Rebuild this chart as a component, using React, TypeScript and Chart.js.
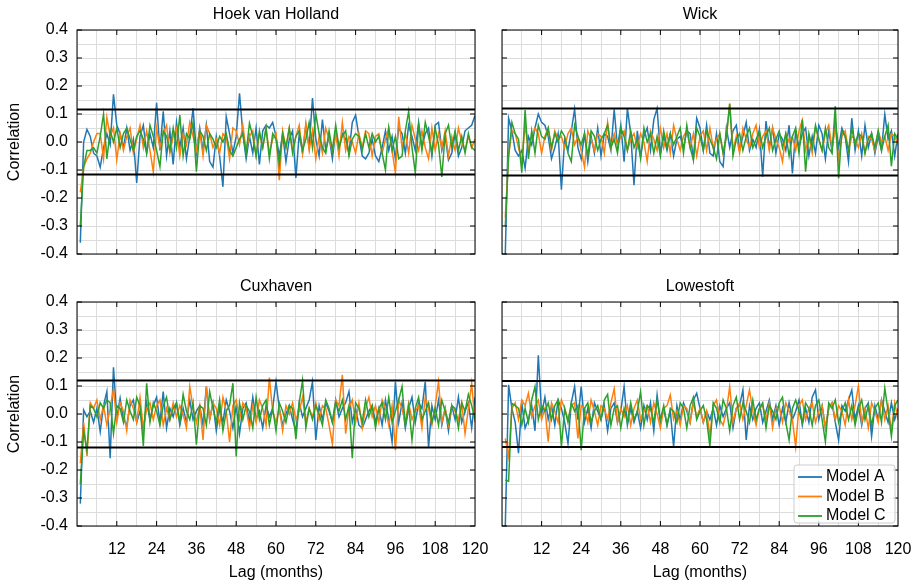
import React, { useEffect, useRef } from 'react';
import { Chart, registerables } from 'chart.js';

Chart.register(...registerables);

const FONT = "'Liberation Sans', Arial, Helvetica, sans-serif";
Chart.defaults.font.family = FONT;
Chart.defaults.font.size = 16;
Chart.defaults.color = '#000';

// Lag axis (months)
const LAGS: number[] = Array.from({ length: 120 }, (_, i) => i + 1);
const X_LABELS = [12, 24, 36, 48, 60, 72, 84, 96, 108, 120];
const Y_LABELS = [-0.4, -0.3, -0.2, -0.1, 0, 0.1, 0.2, 0.3, 0.4];

const SERIES_NAMES = ['Model A', 'Model B', 'Model C'];
const SERIES_COLORS = ['#1f77b4', '#ff7f0e', '#2ca02c'];

// ---------------- Hoek van Holland ----------------
const hvhA = [
  -0.36, 0.0, 0.045, 0.02, -0.04, -0.05, -0.09, -0.02, 0.03, -0.01, 0.17, 0.06,
  0.03, -0.02, 0.05, -0.03, 0.01, -0.146, 0.02, 0.06, -0.04, 0.03, -0.02, 0.14,
  -0.03, 0.11, -0.05, 0.04, -0.08, 0.07, -0.02, 0.05, -0.06, 0.02, 0.12, -0.04,
  0.05, -0.03, 0.06, -0.07, -0.09, 0.02, -0.05, -0.16, 0.09, 0.03, -0.04, 0.02,
  0.174, 0.03, -0.06, 0.02, -0.04, 0.05, -0.08, 0.04, 0.06, 0.05, 0.07, 0.02,
  -0.05, 0.03, -0.07, 0.01, 0.04, -0.128, 0.03, -0.04, 0.06, -0.02, 0.157, 0.01,
  -0.05, 0.08, -0.03, 0.02, -0.06, 0.04, -0.02, 0.03, 0.01, -0.04, 0.07, 0.096,
  0.02, -0.05, -0.06, -0.04, 0.01, -0.05, -0.07, -0.02, 0.04, -0.03, 0.02, -0.06,
  0.05, 0.03, -0.04, 0.06, 0.02, -0.03, 0.07, -0.02, 0.03, 0.05, -0.05, 0.06,
  0.07, -0.03, 0.02, -0.064, -0.04, 0.03, -0.05, -0.02, 0.04, 0.05, 0.06, 0.095,
];
const hvhB = [
  -0.18, -0.09, -0.06, -0.04, 0.0, 0.03, 0.03, -0.06, 0.088, 0.02, 0.05, -0.064,
  0.03, -0.03, 0.02, 0.05, -0.04, 0.01, 0.06, -0.02, 0.04, -0.03, -0.106, 0.05,
  -0.02, 0.03, 0.06, -0.04, 0.02, 0.05, -0.05, 0.03, -0.01, 0.07, 0.02, -0.03,
  0.04, -0.05, 0.06, 0.03, -0.02, 0.01, -0.04, 0.03, 0.02, -0.06, 0.05, 0.04,
  -0.01, 0.06, -0.03, 0.02, 0.04, -0.05, 0.03, -0.02, 0.05, -0.04, 0.01, 0.03,
  -0.136, 0.04, -0.02, 0.05, -0.03, 0.02, 0.06, -0.04, 0.067, -0.03, 0.04, -0.06,
  0.02, -0.04, 0.05, 0.01, -0.03, 0.03, -0.05, 0.07, -0.03, 0.02, 0.0, -0.04,
  0.03, -0.02, 0.04, 0.03, -0.05, 0.02, 0.03, -0.04, 0.01, 0.05, -0.03, -0.11,
  0.09, -0.02, 0.03, -0.04, 0.06, 0.01, -0.03, 0.04, -0.02, -0.06, 0.05, -0.03,
  0.03, -0.02, 0.04, -0.05, 0.02, -0.03, 0.05, 0.0, -0.03, 0.02, -0.02, 0.01,
];
const hvhC = [
  -0.3, -0.09, -0.03, -0.03, -0.02, -0.04, 0.02, 0.1, -0.06, 0.04, 0.0, 0.05,
  -0.02, 0.03, 0.05, 0.01, -0.03, 0.02, 0.04, 0.01, -0.04, 0.06, 0.02, -0.03,
  -0.088, 0.04, 0.02, -0.03, 0.05, -0.02, 0.096, -0.05, 0.03, 0.01, 0.07, -0.106,
  0.04, 0.02, -0.03, 0.03, 0.01, -0.02, 0.02, 0.0, 0.03, -0.03, -0.05, -0.02,
  0.01, 0.03, -0.04, 0.067, 0.02, -0.05, 0.04, -0.02, 0.05, -0.06, 0.03, 0.01,
  -0.08, 0.03, -0.02, 0.05, -0.04, 0.02, 0.04, -0.03, 0.01, 0.07, -0.02, 0.1,
  0.03, -0.02, -0.04, 0.04, -0.03, 0.06, -0.02, 0.02, 0.04, -0.05, 0.01, 0.03,
  0.02, -0.03, 0.03, -0.02, 0.03, 0.0, 0.02, -0.04, -0.1, 0.05, -0.03, 0.02,
  -0.06, -0.05, 0.04, 0.11, -0.02, -0.11, 0.06, -0.03, 0.07, 0.02, -0.04, 0.05,
  -0.01, -0.125, 0.03, 0.06, -0.02, 0.04, -0.03, 0.02, -0.04, 0.03, -0.02, -0.03,
];

// ---------------- Wick ----------------
const wickA = [
  -0.4, 0.085, 0.04, -0.03, -0.05, -0.03, -0.094, 0.02, -0.01, 0.05, 0.1, 0.07,
  0.06, 0.02, -0.06, -0.02, 0.03, -0.17, 0.01, -0.03, 0.04, 0.117, -0.02, -0.06,
  0.03, -0.07, 0.02, -0.04, 0.05, -0.05, 0.03, 0.02, -0.03, 0.117, -0.02, 0.06,
  -0.07, 0.12, 0.03, -0.154, 0.04, -0.05, 0.02, 0.05, -0.03, 0.08, 0.12, -0.04,
  0.02, -0.03, 0.03, -0.05, 0.01, 0.02, -0.02, 0.04, 0.03, -0.06, 0.085, 0.05,
  -0.03, 0.06, -0.04, -0.05, 0.03, -0.07, -0.088, 0.05, -0.02, 0.04, 0.06, -0.03,
  0.02, 0.07, -0.03, 0.01, -0.02, 0.045, -0.124, 0.075, -0.02, 0.05, -0.04, 0.03,
  0.01, -0.03, 0.06, -0.112, 0.04, -0.02, 0.03, 0.05, -0.05, 0.02, -0.04, 0.06,
  0.03, -0.06, 0.04, -0.03, 0.07, -0.02, 0.05, 0.02, -0.07, 0.085, -0.03, 0.04,
  -0.05, 0.06, -0.02, 0.03, -0.04, 0.02, -0.03, 0.099, 0.01, 0.04, -0.05, 0.03,
];
const wickB = [
  -0.27, -0.05, 0.04, 0.03, -0.02, -0.07, 0.06, -0.03, 0.02, 0.05, 0.03, -0.04,
  0.02, 0.05, -0.03, 0.04, 0.01, 0.02, -0.02, 0.03, 0.05, -0.01, 0.02, -0.03,
  -0.09, 0.04, 0.01, -0.03, 0.03, 0.02, -0.04, 0.07, -0.02, 0.03, -0.01, 0.02,
  0.04, -0.03, 0.01, 0.03, -0.02, 0.03, 0.0, -0.07, 0.04, 0.01, -0.03, 0.05,
  -0.02, 0.03, -0.04, 0.06, 0.01, -0.03, 0.02, 0.04, -0.02, 0.03, -0.05, 0.02,
  0.04, -0.03, 0.05, -0.02, 0.01, 0.03, -0.04, 0.02, 0.138, -0.03, 0.02, -0.04,
  0.05, 0.01, -0.02, 0.03, 0.06, -0.02, 0.02, 0.04, -0.03, 0.05, 0.01, -0.02,
  -0.07, 0.03, 0.0, 0.02, -0.03, 0.04, 0.079, -0.03, 0.02, -0.04, 0.05, 0.01,
  -0.03, 0.03, 0.06, -0.02, 0.05, -0.06, 0.02, 0.04, -0.03, 0.02, 0.01, -0.02,
  0.03, -0.04, 0.02, 0.01, -0.03, 0.04, 0.0, 0.02, -0.03, 0.03, 0.02, -0.01,
];
const wickC = [
  -0.3, -0.05, 0.07, 0.03, 0.01, -0.11, 0.114, -0.06, 0.04, -0.04, 0.06, 0.02,
  0.01, 0.05, -0.02, 0.03, 0.0, 0.04, 0.02, -0.04, -0.07, 0.06, 0.02, -0.01,
  0.03, -0.05, 0.04, 0.02, -0.03, 0.01, 0.03, 0.06, -0.02, 0.01, -0.04, 0.05,
  0.02, -0.03, 0.04, -0.02, 0.01, -0.06, 0.05, 0.0, 0.03, -0.04, 0.02, -0.05,
  0.04, -0.02, 0.03, -0.01, 0.02, 0.05, -0.04, 0.06, -0.02, -0.064, 0.05, 0.02,
  -0.03, 0.04, 0.01, -0.02, -0.06, 0.03, -0.04, 0.02, 0.135, -0.05, 0.01, 0.03,
  -0.03, 0.02, 0.05, -0.02, 0.01, 0.04, -0.02, 0.02, 0.05, -0.03, 0.01, 0.04,
  -0.02, 0.03, -0.05, 0.02, 0.05, -0.04, 0.08, -0.106, 0.03, -0.02, 0.06, 0.01,
  -0.03, 0.05, -0.02, -0.04, 0.128, -0.13, 0.04, 0.02, -0.03, 0.05, -0.01, 0.03,
  0.02, -0.04, 0.01, 0.03, -0.02, 0.04, -0.03, 0.02, 0.06, -0.086, 0.03, 0.01,
];

// ---------------- Cuxhaven ----------------
const cuxA = [
  -0.32, 0.014, -0.01, 0.01, -0.03, 0.02, -0.063, 0.03, 0.08, -0.158, 0.167, -0.015,
  0.056, -0.02, -0.04, 0.03, 0.05, -0.03, 0.01, -0.06, 0.04, -0.02, 0.03, 0.06,
  -0.03, 0.08, -0.05, 0.02, -0.01, 0.04, -0.04, 0.02, -0.03, 0.05, -0.02, 0.01,
  0.03, -0.04, 0.098, -0.02, 0.04, -0.06, 0.02, -0.03, 0.05, 0.01, -0.05, 0.03,
  -0.07, 0.02, 0.04, -0.03, 0.06, -0.02, 0.01, -0.05, 0.03, -0.01, 0.02, 0.115,
  0.02, -0.04, 0.0, 0.03, -0.02, -0.06, 0.04, -0.01, 0.02, 0.05, 0.115, -0.093,
  0.03, -0.02, 0.04, 0.01, -0.03, 0.05, -0.01, 0.02, 0.04, 0.08, -0.03, 0.02,
  -0.04, -0.05, -0.02, 0.01, 0.03, -0.03, 0.02, -0.04, 0.05, -0.02, -0.1, 0.115,
  -0.03, 0.04, -0.05, 0.02, 0.06, -0.03, 0.04, 0.02, 0.115, -0.12, 0.03, -0.02,
  0.05, -0.04, 0.02, -0.06, 0.03, -0.02, 0.06, -0.03, 0.01, 0.04, -0.05, 0.06,
];
const cuxB = [
  -0.176, -0.03, -0.15, 0.04, 0.02, 0.05, -0.02, 0.03, -0.04, 0.02, 0.09, -0.03,
  0.04, 0.01, -0.06, 0.05, 0.02, -0.03, 0.06, -0.05, 0.02, 0.04, -0.02, 0.03,
  0.05, -0.04, 0.02, -0.02, 0.04, -0.01, 0.03, 0.0, -0.05, 0.098, 0.02, -0.03,
  0.03, -0.093, 0.098, -0.02, 0.04, 0.02, -0.04, 0.06, 0.01, -0.1, 0.03, 0.05,
  -0.02, 0.04, 0.02, -0.05, 0.03, -0.03, 0.05, 0.02, -0.04, 0.13, 0.01, -0.03,
  0.02, -0.06, 0.03, 0.0, 0.04, -0.02, 0.01, 0.06, -0.03, 0.02, -0.01, 0.04,
  -0.02, 0.03, 0.02, -0.04, -0.107, 0.05, 0.03, 0.14, -0.07, 0.02, 0.05, -0.03,
  0.04, -0.05, 0.02, 0.06, -0.01, 0.03, -0.03, 0.05, 0.02, -0.04, 0.03, -0.129,
  0.05, 0.02, -0.03, 0.04, -0.02, 0.01, 0.03, -0.05, 0.06, 0.02, -0.04, 0.03,
  0.115, -0.03, 0.02, -0.04, 0.03, 0.01, -0.02, 0.04, -0.07, 0.02, 0.11, -0.03,
];
const cuxC = [
  -0.25, -0.06, -0.13, 0.03, 0.02, -0.01, 0.04, 0.02, 0.05, 0.04, -0.07, 0.03,
  0.02, -0.03, 0.05, 0.01, -0.02, 0.06, 0.03, -0.114, 0.11, -0.03, 0.04, 0.01,
  -0.04, 0.03, 0.06, -0.02, 0.02, 0.04, -0.03, 0.07, 0.01, -0.02, 0.04, -0.11,
  0.03, 0.02, -0.04, 0.08, 0.02, -0.03, 0.05, -0.06, 0.01, 0.03, 0.11, -0.152,
  0.04, -0.02, 0.03, 0.01, -0.05, 0.06, -0.02, 0.03, 0.05, -0.04, 0.02, -0.06,
  0.04, 0.01, -0.03, 0.03, 0.02, -0.09, 0.04, 0.12, -0.05, 0.02, -0.02, 0.03,
  0.0, -0.04, 0.05, 0.02, -0.03, 0.04, 0.01, 0.05, -0.02, 0.03, -0.158, 0.04,
  0.02, -0.03, 0.05, -0.01, 0.03, -0.05, 0.02, 0.04, -0.02, 0.06, -0.03, 0.01,
  0.05, 0.098, -0.04, 0.03, -0.093, 0.02, 0.06, -0.02, 0.01, 0.04, -0.03, 0.02,
  -0.04, 0.05, 0.01, -0.03, 0.03, 0.02, -0.05, 0.04, 0.01, 0.07, 0.03, -0.02,
];

// ---------------- Lowestoft ----------------
const lowA = [
  -0.4, 0.104, 0.02, -0.03, -0.14, 0.04, -0.05, -0.02, 0.03, -0.06, 0.21, 0.0,
  0.06, -0.02, 0.03, -0.04, 0.05, 0.02, -0.03, -0.105, 0.04, 0.098, -0.02, 0.098,
  -0.03, 0.02, -0.05, 0.04, 0.01, -0.02, 0.03, -0.06, 0.02, 0.04, -0.03, 0.01,
  0.098, -0.04, 0.02, -0.03, 0.01, -0.05, 0.03, -0.02, 0.04, -0.06, 0.068, -0.03,
  0.02, -0.04, 0.01, -0.117, 0.03, -0.02, 0.04, 0.01, -0.03, 0.05, 0.074, 0.02,
  -0.03, 0.01, -0.02, 0.02, -0.04, 0.03, -0.01, 0.02, 0.04, -0.05, 0.02, 0.03,
  0.086, -0.093, 0.03, -0.02, 0.02, 0.04, -0.03, 0.01, 0.05, -0.02, 0.03, -0.04,
  0.02, -0.03, 0.04, -0.02, 0.01, 0.05, -0.04, 0.02, -0.03, 0.06, 0.086, -0.02,
  0.03, -0.05, 0.02, 0.04, -0.03, -0.093, 0.03, 0.01, 0.05, 0.086, -0.02, 0.03,
  -0.04, 0.02, 0.04, -0.08, 0.03, -0.02, 0.05, 0.01, -0.03, 0.04, -0.02, 0.02,
];
const lowB = [
  -0.087, -0.152, 0.02, 0.04, -0.02, 0.05, 0.03, 0.074, -0.01, 0.03, 0.05, -0.02,
  0.02, -0.099, 0.04, 0.01, -0.03, 0.05, 0.02, -0.02, 0.03, 0.04, -0.087, 0.03,
  0.02, -0.03, 0.05, 0.01, -0.04, 0.03, 0.02, -0.02, 0.04, 0.09, -0.03, 0.02,
  -0.01, 0.03, -0.04, 0.02, 0.05, -0.02, 0.01, 0.03, -0.03, 0.04, 0.0, -0.05,
  0.02, 0.03, 0.068, -0.02, 0.01, -0.04, 0.03, 0.02, -0.03, 0.04, -0.01, 0.02,
  -0.03, 0.01, -0.08, 0.03, 0.05, -0.02, -0.04, 0.01, 0.098, -0.03, 0.02, 0.04,
  -0.02, 0.03, 0.086, 0.01, -0.04, 0.02, 0.03, -0.02, 0.04, -0.05, 0.02, 0.03,
  -0.03, 0.04, 0.01, -0.02, -0.117, 0.03, 0.05, -0.02, 0.02, 0.04, -0.03, 0.01,
  0.03, -0.05, 0.02, 0.04, -0.02, 0.03, 0.01, -0.04, 0.05, -0.02, 0.03, 0.1,
  -0.03, 0.02, -0.05, 0.04, 0.01, -0.03, 0.05, -0.02, 0.03, -0.06, 0.04, -0.02,
];
const lowC = [
  -0.236, -0.24, 0.038, 0.03, 0.02, -0.04, 0.02, -0.03, 0.05, 0.098, -0.02, 0.03,
  0.01, 0.04, -0.02, 0.03, 0.05, -0.117, 0.02, -0.03, 0.04, 0.01, 0.03, -0.129,
  0.02, 0.04, -0.03, 0.01, 0.03, -0.02, 0.05, 0.07, -0.04, 0.02, 0.03, -0.05,
  0.02, -0.03, 0.04, -0.02, 0.01, 0.08, -0.04, 0.03, 0.02, -0.03, 0.05, -0.02,
  0.03, -0.04, 0.02, 0.01, -0.03, 0.04, 0.02, -0.05, 0.03, 0.06, -0.02, 0.01,
  0.03, -0.02, -0.117, 0.04, 0.02, -0.03, 0.05, 0.02, -0.06, 0.03, 0.06, -0.02,
  0.04, 0.01, -0.03, 0.05, -0.02, 0.02, 0.04, -0.05, 0.03, 0.01, -0.02, 0.04,
  0.06, -0.03, -0.093, 0.02, 0.05, 0.01, -0.03, 0.04, 0.02, -0.04, 0.03, 0.05,
  -0.02, -0.099, 0.04, 0.02, 0.05, -0.03, 0.01, 0.04, -0.02, 0.03, -0.04, 0.02,
  0.05, -0.02, 0.03, -0.04, 0.02, 0.04, -0.03, 0.092, 0.01, -0.08, 0.03, 0.05,
];

// Confidence bounds (±)
const HVH_BOUND = 0.116;
const WICK_BOUND = 0.12;
const CUX_BOUND = 0.12;
const LOW_BOUND = 0.118;

type Panel = {
  title: string;
  series: number[][];
  bound: number;
  col: number;
  row: number;
  legend: boolean;
};

const PANELS: Panel[] = [
  { title: 'Hoek van Holland', series: [hvhA, hvhB, hvhC], bound: HVH_BOUND, col: 0, row: 0, legend: false },
  { title: 'Wick', series: [wickA, wickB, wickC], bound: WICK_BOUND, col: 1, row: 0, legend: false },
  { title: 'Cuxhaven', series: [cuxA, cuxB, cuxC], bound: CUX_BOUND, col: 0, row: 1, legend: false },
  { title: 'Lowestoft', series: [lowA, lowB, lowC], bound: LOW_BOUND, col: 1, row: 1, legend: true },
];

// Layout geometry (canvas rect and plot area in page pixels)
const COLS = [
  { cx: 0, cw: 490, left: 77, right: 475 },
  { cx: 490, cw: 424, left: 502, right: 898 },
];
const ROWS = [
  { cy: 0, ch: 270, top: 30, bottom: 254 },
  { cy: 270, ch: 314, top: 302, bottom: 526 },
];

function makeDecor(panel: Panel) {
  return {
    id: 'decor',
    afterDraw(chart: any) {
      const { ctx, chartArea } = chart;
      const { left, right, top, bottom } = chartArea;
      const xs = chart.scales.x;
      const ys = chart.scales.y;
      ctx.save();
      ctx.strokeStyle = '#000';
      ctx.lineWidth = 1;
      ctx.beginPath();
      X_LABELS.forEach((v) => {
        if (v >= 120) return;
        const px = xs.getPixelForValue(v);
        ctx.moveTo(px, bottom);
        ctx.lineTo(px, bottom - 5);
        ctx.moveTo(px, top);
        ctx.lineTo(px, top + 5);
      });
      Y_LABELS.forEach((v) => {
        const py = ys.getPixelForValue(v);
        ctx.moveTo(left, py);
        ctx.lineTo(left + 5, py);
        ctx.moveTo(right, py);
        ctx.lineTo(right - 5, py);
      });
      ctx.stroke();
      ctx.strokeRect(left, top, right - left, bottom - top);

      ctx.fillStyle = '#000';
      ctx.font = `16px ${FONT}`;
      ctx.textAlign = 'center';
      ctx.textBaseline = 'middle';
      ctx.fillText(panel.title, (left + right) / 2, top - 15.5);

      if (panel.col === 0) {
        ctx.save();
        ctx.translate(15, (top + bottom) / 2);
        ctx.rotate(-Math.PI / 2);
        ctx.fillText('Correlation', 0, 0);
        ctx.restore();
      }
      if (panel.row === 1) {
        ctx.fillText('Lag (months)', (left + right) / 2, bottom + 47);
      }

      if (panel.legend) {
        const bx = right - 104;
        const by = bottom - 61;
        const bw = 101;
        const bh = 58;
        ctx.fillStyle = 'rgba(255,255,255,0.8)';
        ctx.strokeStyle = '#cccccc';
        ctx.beginPath();
        if ((ctx as any).roundRect) (ctx as any).roundRect(bx, by, bw, bh, 3);
        else ctx.rect(bx, by, bw, bh);
        ctx.fill();
        ctx.stroke();
        SERIES_NAMES.forEach((name, i) => {
          const yy = bottom - 49 + i * 19.5;
          ctx.strokeStyle = SERIES_COLORS[i];
          ctx.lineWidth = 1.8;
          ctx.beginPath();
          ctx.moveTo(right - 100, yy);
          ctx.lineTo(right - 76, yy);
          ctx.stroke();
          ctx.fillStyle = '#000';
          ctx.textAlign = 'left';
          ctx.fillText(name, right - 72, yy);
        });
      }
      ctx.restore();
    },
  };
}

function PanelChart({ panel }: { panel: Panel }) {
  const ref = useRef<HTMLCanvasElement | null>(null);
  const col = COLS[panel.col];
  const row = ROWS[panel.row];

  useEffect(() => {
    if (!ref.current) return;
    const showX = panel.row === 1;
    const showY = panel.col === 0;
    const seriesDatasets = panel.series.map((arr, i) => ({
      label: SERIES_NAMES[i],
      data: LAGS.map((lag, j) => ({ x: lag, y: arr[j] })),
      borderColor: SERIES_COLORS[i],
      backgroundColor: SERIES_COLORS[i],
      borderWidth: 1.5,
      pointRadius: 0,
      fill: false,
      tension: 0,
      order: 3 - i,
    }));
    const boundDatasets = [panel.bound, -panel.bound].map((b) => ({
      label: 'bound',
      data: [
        { x: 0, y: b },
        { x: 120, y: b },
      ],
      borderColor: '#000',
      borderWidth: 2,
      pointRadius: 0,
      fill: false,
      order: 0,
    }));
    const chart = new Chart(ref.current, {
      type: 'line',
      data: { datasets: [...boundDatasets, ...seriesDatasets] as any },
      options: {
        animation: false,
        responsive: false,
        maintainAspectRatio: false,
        layout: {
          padding: {
            top: row.top - row.cy,
            right: col.cx + col.cw - col.right,
            left: 0,
            bottom: 0,
          },
        },
        plugins: { legend: { display: false }, tooltip: { enabled: false } },
        scales: {
          x: {
            type: 'linear',
            min: 0,
            max: 120,
            afterFit: (s: any) => {
              s.height = row.cy + row.ch - row.bottom;
              s.paddingLeft = 0;
              s.paddingRight = 0;
              s.paddingTop = 0;
              s.paddingBottom = 0;
            },
            ticks: {
              display: showX,
              stepSize: 6,
              autoSkip: false,
              maxRotation: 0,
              padding: 14,
              color: '#000',
              font: { size: 16, family: FONT },
              callback: (v: any) => (v > 0 && v % 12 === 0 ? String(v) : ''),
            },
            grid: { color: '#dcdcdc', lineWidth: 1, drawTicks: false },
            border: { display: false },
          },
          y: {
            type: 'linear',
            min: -0.4,
            max: 0.4,
            afterFit: (s: any) => {
              s.width = col.left - col.cx;
              s.paddingLeft = 0;
              s.paddingRight = 0;
              s.paddingTop = 0;
              s.paddingBottom = 0;
            },
            ticks: {
              display: showY,
              stepSize: 0.05,
              autoSkip: false,
              padding: 9,
              color: '#000',
              font: { size: 16, family: FONT },
              callback: (v: any) => {
                const k = Math.round(v * 20);
                if (k % 2 !== 0) return '';
                const val = k / 20;
                return val === 0 ? '0.0' : val.toFixed(1);
              },
            },
            grid: { color: '#dcdcdc', lineWidth: 1, drawTicks: false },
            border: { display: false },
          },
        },
      } as any,
      plugins: [makeDecor(panel)],
    });
    return () => chart.destroy();
  }, [panel]);

  return (
    <canvas
      ref={ref}
      width={col.cw}
      height={row.ch}
      style={{ position: 'absolute', left: col.cx, top: row.cy, width: col.cw, height: row.ch }}
    />
  );
}

export default function App() {
  return (
    <div style={{ position: 'absolute', left: 0, top: 0, width: 914, height: 584, background: '#fff', overflow: 'hidden' }}>
      {PANELS.map((p) => (
        <PanelChart key={p.title} panel={p} />
      ))}
    </div>
  );
}
